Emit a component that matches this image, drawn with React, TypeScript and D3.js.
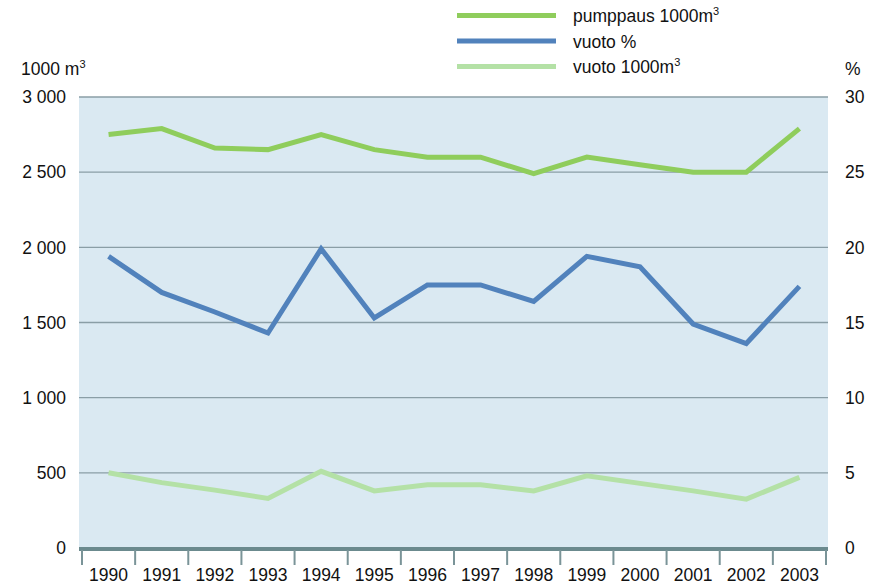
import React from 'react';
import * as d3 from 'd3';

// water pumping and leakage, 1990-2003
const years = ['1990', '1991', '1992', '1993', '1994', '1995', '1996', '1997', '1998', '1999', '2000', '2001', '2002', '2003'];
const pumppaus = [2750, 2790, 2660, 2650, 2750, 2650, 2600, 2600, 2490, 2600, 2550, 2500, 2500, 2790];
const vuotoPct = [19.4, 17.0, 15.7, 14.3, 19.9, 15.3, 17.5, 17.5, 16.4, 19.4, 18.7, 14.9, 13.6, 17.4];
const vuoto = [500, 435, 385, 330, 510, 380, 420, 420, 380, 480, 430, 380, 325, 470];
const leftTicks = [0, 500, 1000, 1500, 2000, 2500, 3000];
const rightTicks = [0, 5, 10, 15, 20, 25, 30];

const W = 875;
const H = 587;
const margin = { top: 97, right: 47, bottom: 39, left: 80 };
const FONT = '"Liberation Sans", Arial, sans-serif';
const FS = 17.5;

const fmtLeft = (v: number) => d3.format(',')(v).replace(',', ' ');

export default function App() {
  const iw = W - margin.left - margin.right;
  const ih = H - margin.top - margin.bottom;

  const x = d3.scaleBand<string>().domain(years).range([2, iw - 2]);
  const yL = d3.scaleLinear().domain([0, 3000]).range([ih, 0]);
  const yR = d3.scaleLinear().domain([0, 30]).range([ih, 0]);
  const cx = (i: number) => (x(years[i]) ?? 0) + x.bandwidth() / 2;

  const lineL = d3.line<number>().x((_, i) => cx(i)).y(d => yL(d));
  const lineR = d3.line<number>().x((_, i) => cx(i)).y(d => yR(d));

  const series = [
    { label: 'pumppaus 1000m', sup: '3', color: '#8fcd5c', d: lineL(pumppaus) },
    { label: 'vuoto %', sup: '', color: '#5182bc', d: lineR(vuotoPct) },
    { label: 'vuoto 1000m', sup: '3', color: '#b4e1a6', d: lineL(vuoto) },
  ];

  const boundaries = years.map(y => x(y) ?? 0).concat([(x(years[years.length - 1]) ?? 0) + x.bandwidth()]);

  return (
    <svg width={W} height={H} style={{ position: 'absolute', left: 0, top: 0 }} fontFamily={FONT}>
      <rect width={W} height={H} fill="#fff" />

      {/* legend */}
      {series.map((s, i) => (
        <g key={s.label} transform={`translate(457, ${15.5 + i * 25.5})`}>
          <line x1={0} x2={99} stroke={s.color} strokeWidth={5} />
          <text x={116} y={6.5} fontSize={FS} fill="#111">
            {s.label}
            {s.sup && <tspan fontSize={11} dy={-7}>{s.sup}</tspan>}
          </text>
        </g>
      ))}

      {/* axis titles */}
      <text x={21} y={75} fontSize={FS} fill="#111">
        1000 m<tspan fontSize={11} dy={-7}>3</tspan>
      </text>
      <text x={845} y={75} fontSize={FS} fill="#111">%</text>

      <g transform={`translate(${margin.left}, ${margin.top})`}>
        <rect x={-1} y={0} width={iw + 1} height={ih} fill="#dae9f2" />

        {leftTicks.filter(t => t > 0).map(t => (
          <line key={t} x1={-1} x2={iw} y1={yL(t)} y2={yL(t)} stroke="#8a9ea6" strokeWidth={1.3} />
        ))}

        {leftTicks.map(t => (
          <text key={t} x={-14} y={yL(t)} dy="0.36em" textAnchor="end" fontSize={FS} fill="#111">
            {fmtLeft(t)}
          </text>
        ))}
        {rightTicks.map(t => (
          <text key={t} x={iw + 17} y={yR(t)} dy="0.36em" fontSize={FS} fill="#111">
            {t}
          </text>
        ))}

        {series.map(s => (
          <path key={s.label} d={s.d ?? ''} fill="none" stroke={s.color} strokeWidth={5} strokeLinejoin="miter" />
        ))}

        {/* category axis */}
        <rect x={-1} y={ih - 1} width={iw + 1} height={4} fill="#6b8a8e" />
        {boundaries.map((b, i) => (
          <line key={i} x1={b} x2={b} y1={ih + 2} y2={ih + 17} stroke="#7a9498" strokeWidth={2} />
        ))}
        {years.map((y, i) => (
          <text key={y} x={cx(i)} y={ih + 33} textAnchor="middle" fontSize={FS} fill="#111">
            {y}
          </text>
        ))}
      </g>
    </svg>
  );
}
